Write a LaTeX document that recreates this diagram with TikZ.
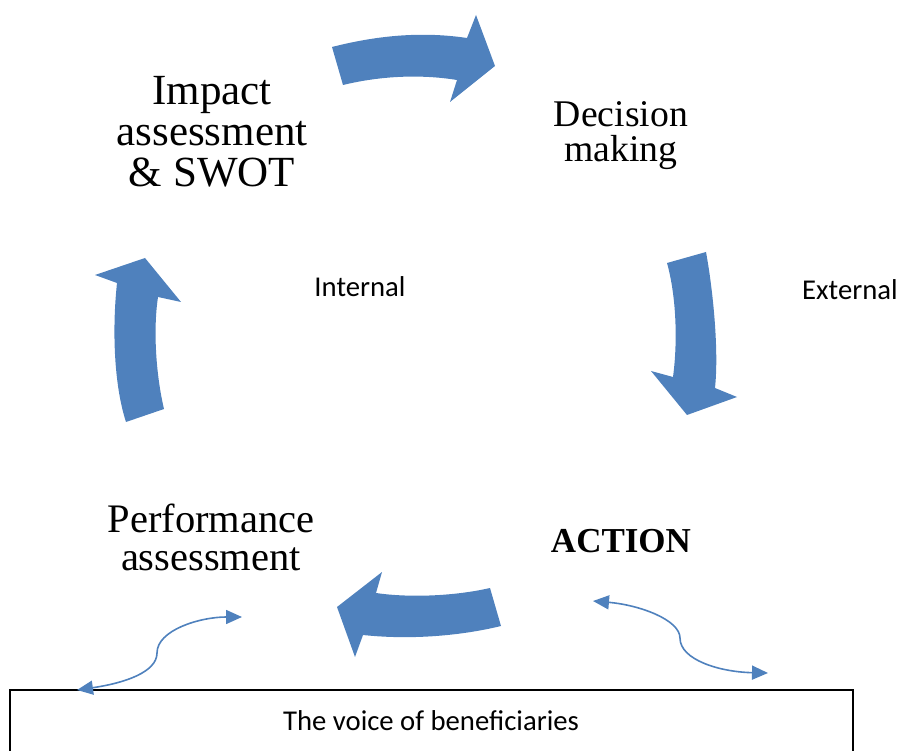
\documentclass[tikz,border=0pt]{standalone}
\usepackage{fontspec}
\setmainfont{Liberation Serif}
\newfontfamily\carl{Carlito}
\usetikzlibrary{arrows.meta}
\definecolor{officeblue}{RGB}{79,129,189}
\tikzset{
  bigarrow/.style={fill=officeblue, draw=none},
  thinlink/.style={draw=officeblue, line width=1.6pt,
     {Triangle[length=16pt,width=14pt]}-{Triangle[length=16pt,width=14pt]}},
  serifbig/.style={align=center, anchor=base, inner sep=0pt},
  sanslabel/.style={anchor=base, inner sep=0pt, font=\carl\fontsize{28.7}{34}\selectfont},
}
\begin{document}
\begin{tikzpicture}[x=1pt,y=-1pt]
\useasboundingbox (0,0) rectangle (898,751);
\clip (0,0) rectangle (898,751);

% block arrows
\fill[bigarrow] (332,47) .. controls (375,36) and (420,31) .. (467,38)
  -- (476,15) -- (495,66) -- (450,102) -- (457,80)
  .. controls (420,74) and (380,76) .. (343,85) -- cycle;
\fill[bigarrow] (667,263) -- (706,252) .. controls (713,290) and (719,350) .. (715,388)
  -- (737,397) -- (687,415) -- (651,371) -- (673,377)
  .. controls (678,340) and (676,295) .. (667,263) -- cycle;
\fill[bigarrow] (126,422) -- (164,409) .. controls (156,375) and (153,330) .. (158,297)
  -- (181,302) -- (145,258) -- (95,275) -- (117,283)
  .. controls (112,330) and (114,385) .. (126,422) -- cycle;
\fill[bigarrow] (490,588) -- (501,626) .. controls (460,636) and (410,640) .. (363,635)
  -- (355,657) -- (337,607) -- (382,572) -- (376,593)
  .. controls (410,598) and (455,596) .. (490,588) -- cycle;

% texts (base anchor = baseline of last line)
\node[serifbig, font=\fontsize{43}{41}\selectfont] (impact) at (212,187) {Impact\\assessment\\\& SWOT};
\node[serifbig, font=\fontsize{37.7}{35}\selectfont] (decision) at (621,162) {Decision\\making};
\node[serifbig, font=\fontsize{40.5}{38}\selectfont] (perf) at (211,570) {Performance\\assessment};
\node[serifbig, font=\fontsize{35}{40}\selectfont\bfseries] (action) at (621,552) {ACTION};
\node[sanslabel] (internal) at (360,297) {Internal};
\node[sanslabel] (external) at (850,300) {External};

% beneficiaries box
\draw[line width=1.4pt] (10,690) rectangle (853,800);
\node[sanslabel] (voice) at (431,730) {The voice of beneficiaries};

% thin connectors
\coordinate (l1) at (77,690);
\coordinate (l2) at (242,617);
\coordinate (r1) at (593,601);
\coordinate (r2) at (768,673);
\draw[thinlink] (l1) .. controls (125,683) and (157,672) .. (157,653)
  .. controls (157,630) and (200,617) .. (l2);
\draw[thinlink] (r1) .. controls (640,605) and (680,620) .. (680,638)
  .. controls (680,660) and (720,672) .. (r2);
\end{tikzpicture}
\end{document}
